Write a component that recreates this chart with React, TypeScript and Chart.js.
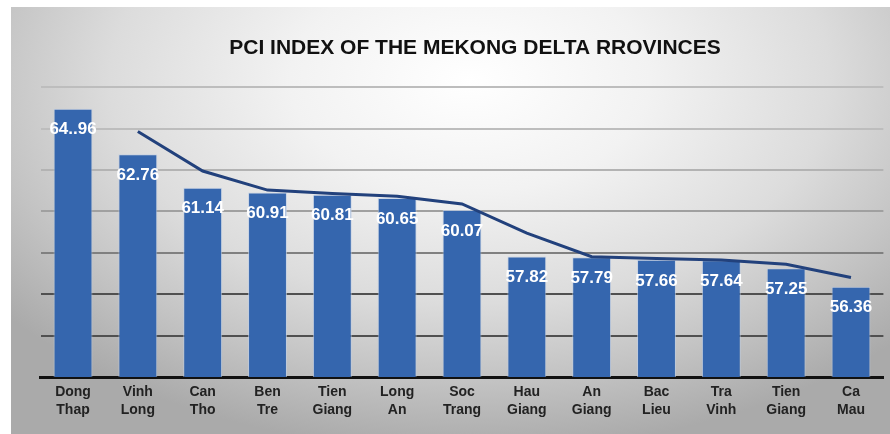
import React, { useEffect, useRef } from "react";
import { Chart, registerables } from "chart.js";

Chart.register(...registerables);

const categories: string[][] = [
  ["Dong", "Thap"],
  ["Vinh", "Long"],
  ["Can", "Tho"],
  ["Ben", "Tre"],
  ["Tien", "Giang"],
  ["Long", "An"],
  ["Soc", "Trang"],
  ["Hau", "Giang"],
  ["An", "Giang"],
  ["Bac", "Lieu"],
  ["Tra", "Vinh"],
  ["Tien", "Giang"],
  ["Ca", "Mau"],
];

const pciValues: number[] = [
  64.96, 62.76, 61.14, 60.91, 60.81, 60.65, 60.07, 57.82, 57.79, 57.66, 57.64, 57.25, 56.36,
];

const valueLabels: string[] = [
  "64..96", "62.76", "61.14", "60.91", "60.81", "60.65", "60.07", "57.82", "57.79", "57.66", "57.64", "57.25", "56.36",
];

// trend line
const trendValues: (number | null)[] = [
  null, 63.86, 61.95, 61.03, 60.86, 60.73, 60.36, 58.95, 57.81, 57.73, 57.65, 57.45, 56.81,
];

const yMin = 52;
const yMax = 66;
const yStep = 2;

const titleText = "PCI INDEX OF THE MEKONG DELTA RROVINCES";

const backgroundPlugin = {
  id: "panelBackground",
  beforeDraw(chart: any) {
    const { ctx, width, height } = chart;
    ctx.save();
    ctx.fillStyle = "#ffffff";
    ctx.fillRect(0, 0, width, height);
    const px = 11;
    const py = 7;
    ctx.beginPath();
    ctx.rect(px, py, width - px, height - py);
    ctx.clip();
    ctx.translate(470, 80);
    ctx.scale(1, 0.62);
    const g = ctx.createRadialGradient(0, 0, 0, 0, 0, 600);
    g.addColorStop(0, "#ffffff");
    g.addColorStop(0.3, "#f2f2f2");
    g.addColorStop(0.6, "#dcdcdc");
    g.addColorStop(0.8, "#c4c4c4");
    g.addColorStop(1, "#aaaaaa");
    ctx.fillStyle = g;
    ctx.fillRect(-700, -300, 1400, 1000);
    ctx.restore();
  },
};

const titleShiftPlugin = {
  id: "titleShift",
  afterLayout(chart: any) {
    const t = chart.titleBlock;
    if (t) {
      t.left += 13;
      t.right += 13;
    }
  },
};

const valueLabelPlugin = {
  id: "valueLabels",
  afterDatasetsDraw(chart: any) {
    const { ctx } = chart;
    const meta = chart.getDatasetMeta(1);
    ctx.save();
    ctx.font = "bold 17px 'Liberation Sans', Arial, sans-serif";
    ctx.fillStyle = "#ffffff";
    ctx.textAlign = "center";
    ctx.textBaseline = "middle";
    meta.data.forEach((bar: any, i: number) => {
      ctx.fillText(valueLabels[i], bar.x, bar.y + 21);
    });
    ctx.restore();
  },
};

const gridColorFor = (v: number): string => {
  if (v >= 64) return "#bdbdbd";
  if (v >= 62) return "#b3b3b3";
  if (v >= 60) return "#a0a0a0";
  if (v >= 58) return "#808080";
  return "#505050";
};

export default function App() {
  const canvasRef = useRef<HTMLCanvasElement | null>(null);

  useEffect(() => {
    if (!canvasRef.current) return;
    const chart = new Chart(canvasRef.current, {
      type: "bar",
      data: {
        labels: categories,
        datasets: [
          {
            type: "line",
            label: "Trend",
            data: trendValues,
            borderColor: "#22417c",
            borderWidth: 3,
            pointRadius: 0,
            tension: 0,
            fill: false,
            order: 0,
          } as any,
          {
            type: "bar",
            label: "PCI",
            data: pciValues,
            backgroundColor: "#3566ae",
            borderColor: "rgba(190,205,230,0.7)",
            borderWidth: 1,
            barPercentage: 0.6,
            categoryPercentage: 1,
            order: 1,
          },
        ],
      },
      options: {
        animation: false,
        responsive: false,
        maintainAspectRatio: false,
        layout: {
          padding: { left: 40.6, right: 6.6, top: 0, bottom: 8.6 },
        },
        plugins: {
          legend: { display: false },
          tooltip: { enabled: false },
          title: {
            display: true,
            text: titleText,
            color: "#111111",
            font: { family: "'Liberation Sans', Arial, sans-serif", size: 21, weight: "bold", lineHeight: 1.2 },
            padding: { top: 36, bottom: 26 },
          },
        },
        scales: {
          x: {
            grid: { display: false, drawTicks: false },
            border: { display: true, color: "#111111", width: 3 },
            ticks: {
              color: "#222222",
              font: { family: "'Liberation Sans', Arial, sans-serif", size: 14, weight: "bold", lineHeight: 1.3 },
              padding: 6,
              maxRotation: 0,
              autoSkip: false,
            },
          },
          y: {
            min: yMin,
            max: yMax,
            ticks: { display: false, stepSize: yStep },
            grid: {
              drawTicks: false,
              lineWidth: 2,
              color: (ctx: any) => gridColorFor(ctx.tick ? ctx.tick.value : 0),
            },
            border: { display: false },
          },
        },
      },
      plugins: [backgroundPlugin, titleShiftPlugin, valueLabelPlugin],
    });
    return () => chart.destroy();
  }, []);

  return (
    <div style={{ position: "fixed", left: 0, top: 0, width: 890, height: 434 }}>
      <canvas ref={canvasRef} width={890} height={434} style={{ width: 890, height: 434 }} />
    </div>
  );
}
